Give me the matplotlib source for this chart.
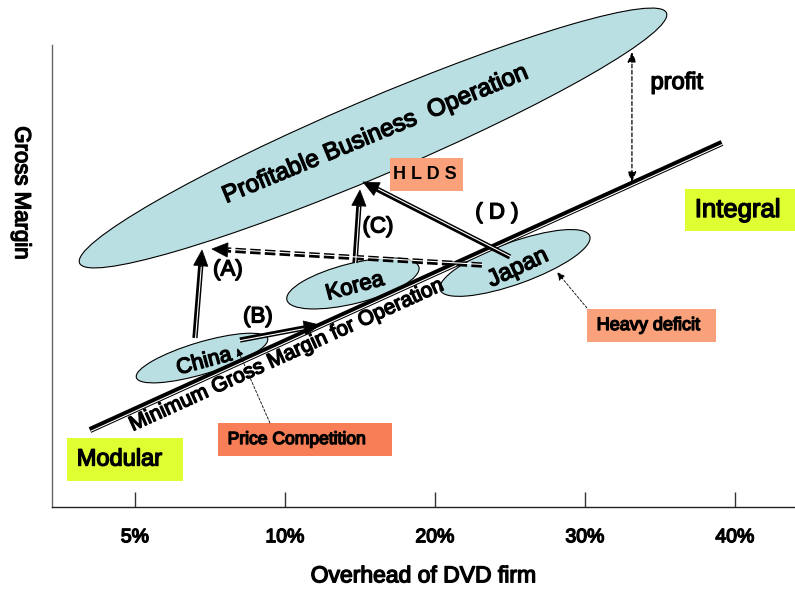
import numpy as np
import matplotlib
matplotlib.use("Agg")
import matplotlib.pyplot as plt
from matplotlib.patches import Ellipse, Rectangle, Polygon
import matplotlib.patheffects as pe

plt.rcParams['font.family'] = ['Liberation Sans', 'DejaVu Sans']

# ---- axis ticks ----
tick_pos = [1, 2, 3, 4, 5]
tick_labels = ['5%', '10%', '20%', '30%', '40%']

# ---- minimum gross margin line (x in tick slots, y in margin units) ----
min_margin_x = [0.70, 4.913]
min_margin_y = [0.513, 2.427]

# ---- zones (ellipses) ----
zone_names = ['Profitable Business  Operation', 'China', 'Korea', 'Japan']
zone_cx = [2.587, 1.447, 2.453, 3.533]
zone_cy = [2.46, 0.993, 1.49, 1.627]
zone_w = [4.253, 0.913, 0.907, 1.06]
zone_h = [0.507, 0.213, 0.267, 0.28]
zone_angle = [23.1, 16.6, 14.0, 19.8]
zone_label_x = [2.60, 1.46, 2.467, 3.553]
zone_label_y = [2.48, 0.967, 1.467, 1.593]
zone_label_rot = [22.5, 15, 15, 25]
zone_label_size = [17.5, 15.5, 16, 17]

# ---- strategic moves ----
move_labels = ['(A)', '(B)', '(C)', '( D )']
move_x0 = [1.40, 1.70, 2.467, 3.50]
move_y0 = [1.127, 1.113, 1.627, 1.667]
move_x1 = [1.447, 2.233, 2.50, 2.52]
move_y1 = [1.713, 1.213, 2.113, 2.167]
move_label_x = [1.62, 1.82, 2.62, 3.413]
move_label_y = [1.58, 1.267, 1.867, 1.96]

# retreat of Japan (dashed)
retreat_x = [3.313, 1.513]
retreat_y = [1.613, 1.72]

# profit gap
profit_x = 4.313
profit_y = [2.167, 3.033]

# ---- label boxes ----
box_text = ['H L D S', 'Integral', 'Modular', 'Price Competition', 'Heavy deficit']
box_x0 = [2.70, 4.667, 0.547, 1.553, 4.013]
box_x1 = [3.187, 5.40, 1.32, 2.713, 4.873]
box_y0 = [2.107, 1.84, 0.173, 0.34, 1.10]
box_y1 = [2.327, 2.12, 0.46, 0.56, 1.32]
box_color = ['#F9A17A', '#DFFF33', '#DFFF33', '#F77E56', '#F9A17A']
box_size = [13, 18.5, 17, 12.6, 13]

# pointers from boxes to zones
pointer_x0 = [1.90, 4.013]
pointer_y0 = [0.56, 1.327]
pointer_x1 = [1.68, 3.813]
pointer_y1 = [1.06, 1.567]

ZONE_FILL = '#BADFE2'

fig = plt.figure(figsize=(7.95, 5.95), dpi=100)
ax = fig.add_axes([52 / 795, 88 / 595, 743 / 795, 462 / 595])
ax.set_xlim(0.447, 5.4)
ax.set_ylim(0, 3.08)

for s in ['top', 'right']:
    ax.spines[s].set_visible(False)
ax.spines['left'].set_color('#666666')
ax.spines['bottom'].set_color('#222222')
ax.spines['left'].set_linewidth(1.0)
ax.spines['bottom'].set_linewidth(1.0)

heavy = [pe.withStroke(linewidth=1.0, foreground='black')]

ax.set_xticks(tick_pos)
ax.set_xticklabels(tick_labels, fontsize=14)
ax.set_yticks([])
ax.tick_params(axis='x', direction='in', length=11, width=1, color='#333333', pad=16)
for t in ax.get_xticklabels():
    t.set_path_effects(heavy)

ax.set_xlabel('Overhead of DVD firm', fontsize=16.5, labelpad=13,
              path_effects=heavy)
fig.text(21 / 795, 1 - 193 / 595, 'Gross Margin', rotation=-90, fontsize=16,
         ha='center', va='center', path_effects=heavy)

# zones
for i, name in enumerate(zone_names):
    ax.add_patch(Ellipse((zone_cx[i], zone_cy[i]), zone_w[i], zone_h[i],
                         angle=zone_angle[i], facecolor=ZONE_FILL,
                         edgecolor='black', lw=0.8, zorder=2, clip_on=False))
    ax.text(zone_label_x[i], zone_label_y[i], name, rotation=zone_label_rot[i],
            rotation_mode='anchor', ha='center', va='center',
            fontsize=zone_label_size[i], zorder=6, path_effects=heavy)

# minimum gross margin line: heavy double rule
ax.plot(min_margin_x, min_margin_y, color='black', lw=4.4,
        solid_capstyle='butt', zorder=4,
        path_effects=[pe.Normal(),
                      pe.Stroke(linewidth=0.8, foreground='white', offset=(0.45, -0.95))])
mm_angle = np.degrees(np.arctan2(min_margin_y[1] - min_margin_y[0],
                                 min_margin_x[1] - min_margin_x[0]))
ax.text(2.013, 1.013, 'Minimum Gross Margin for Operation', rotation=mm_angle,
        rotation_mode='anchor', ha='center', va='center', fontsize=15,
        zorder=5, path_effects=heavy)


def arrow_head(x1, y1, ux, uy, length, width, z=7):
    bx, by = x1 - ux * length, y1 - uy * length
    px, py = -uy, ux
    ax.add_patch(Polygon([[x1, y1],
                          [bx + px * width / 2, by + py * width / 2],
                          [bx - px * width / 2, by - py * width / 2]],
                         closed=True, facecolor='black', edgecolor='black',
                         lw=0.5, zorder=z, clip_on=False))
    return bx, by


def double_arrow(x0, y0, x1, y1, dashed=False):
    dx, dy = x1 - x0, y1 - y0
    L = np.hypot(dx, dy)
    ux, uy = dx / L, dy / L
    bx, by = arrow_head(x1, y1, ux, uy, 0.105, 0.095)
    kw = dict(color='black', lw=3.8, zorder=7, solid_capstyle='butt')
    if dashed:
        kw.update(linestyle=(0, (2.0, 0.8)), dash_capstyle='butt')
    ax.plot([x0, bx], [y0, by], **kw)
    # thin white core, nudged to one side of the shaft
    off = (0.45 * uy, -0.45 * ux)
    ax.plot([x0, bx - ux * 0.01], [y0, by - uy * 0.01], color='white', lw=0.8,
            zorder=7.5, path_effects=[pe.Stroke(offset=off)])


for i in range(len(move_labels)):
    double_arrow(move_x0[i], move_y0[i], move_x1[i], move_y1[i])
    ax.text(move_label_x[i], move_label_y[i], move_labels[i], fontsize=16,
            ha='center', va='center', zorder=8, path_effects=heavy)

double_arrow(retreat_x[0], retreat_y[0], retreat_x[1], retreat_y[1], dashed=True)

# profit gap
ax.annotate('', xy=(profit_x, profit_y[1]), xytext=(profit_x, profit_y[0]),
            arrowprops=dict(arrowstyle='<|-|>,head_length=0.5,head_width=0.22',
                            lw=0.9, color='black', linestyle=(0, (3, 2)),
                            shrinkA=0, shrinkB=0, mutation_scale=12),
            zorder=6, annotation_clip=False)
ax.text(4.613, 2.827, 'profit', fontsize=17, ha='center', va='center',
        path_effects=heavy)

# boxes
for i, t in enumerate(box_text):
    ax.add_patch(Rectangle((box_x0[i], box_y0[i]), box_x1[i] - box_x0[i],
                           box_y1[i] - box_y0[i], facecolor=box_color[i],
                           edgecolor='none', zorder=8, clip_on=False))
    if t.startswith('H L'):
        ax.text((box_x0[i] + box_x1[i]) / 2 - 0.01, (box_y0[i] + box_y1[i]) / 2, t,
                fontsize=box_size[i], ha='center', va='center', zorder=9,
                weight='bold', family=['Liberation Sans Narrow', 'Liberation Sans'])
    else:
        ax.text(box_x0[i] + 0.065, (box_y0[i] + box_y1[i]) / 2, t,
                fontsize=box_size[i], ha='left', va='center', zorder=9,
                path_effects=heavy)

# thin pointers
for i in range(len(pointer_x0)):
    ax.annotate('', xy=(pointer_x1[i], pointer_y1[i]),
                xytext=(pointer_x0[i], pointer_y0[i]),
                arrowprops=dict(arrowstyle='-|>,head_length=0.5,head_width=0.22',
                                lw=0.6, color='black', linestyle=(0, (3, 2)),
                                shrinkA=0, shrinkB=0, mutation_scale=10),
                zorder=8, annotation_clip=False)

fig.savefig('out.png', dpi=100)
